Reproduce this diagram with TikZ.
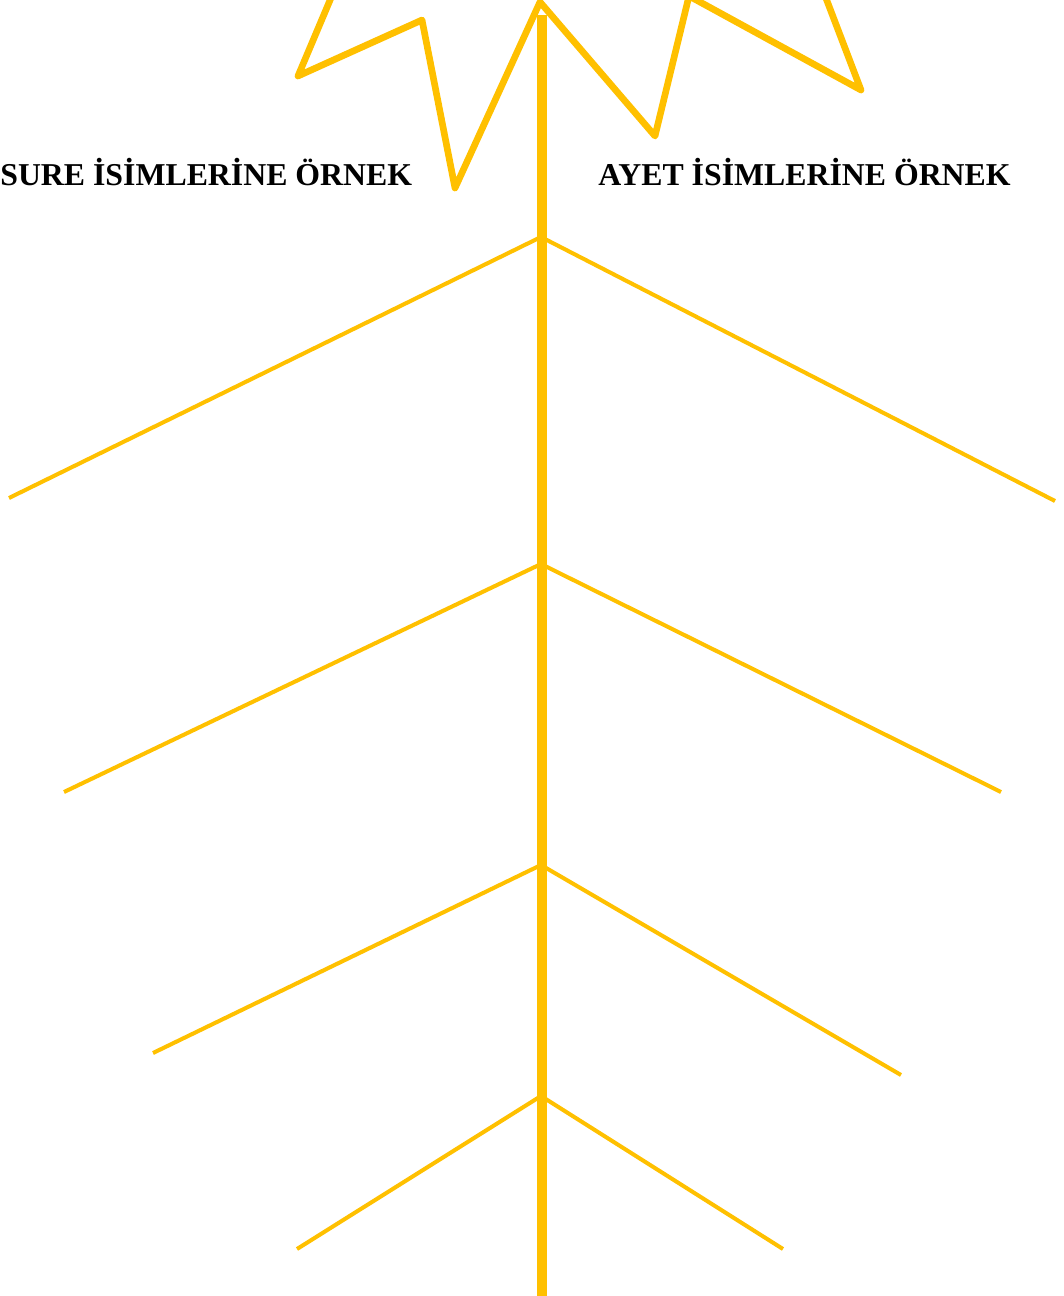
\documentclass[tikz,border=0pt]{standalone}
\usepackage{fontspec}
\setmainfont{Liberation Serif}
\usetikzlibrary{positioning}
\definecolor{stemgold}{RGB}{255,192,0}

\begin{document}
\begin{tikzpicture}[x=0.02cm, y=-0.02cm,
  trunk/.style={stemgold, line width=5.5pt},
  branch/.style={stemgold, line width=2.3pt},
  crown/.style={stemgold, line width=3.8pt, line join=round, line cap=round},
  title/.style={font=\bfseries\fontsize{18.1}{21}\selectfont, inner sep=0pt, anchor=base west}]

% =====================================================================
% Page frame in pixel units (1064 x 1296), y runs downwards
% =====================================================================
\useasboundingbox (0,0) rectangle (1064,1296);
\clip (0,0) rectangle (1064,1296);

% ===== Star at the top (mostly cut off by the frame) =====
\draw[crown] (250,-120) -- (347,-40) -- (298,76) -- (422,20) -- (455,188)
  -- (540,2) -- (655,136) -- (689,-4) -- (861,90) -- (800,-70) -- (900,-150);

% ===== Trunk =====
\coordinate (top) at (542,15);
\coordinate (foot) at (542,1300);
\draw[trunk] (top) -- (foot);

% ===== Branch joints on the trunk and free ends =====
\coordinate (j1) at (541,237);
\coordinate (j2) at (541,564);
\coordinate (j3) at (541,865);
\coordinate (j4) at (541,1096);

\coordinate (l1) at (9,498);    \coordinate (r1) at (1055,501);
\coordinate (l2) at (64,792);   \coordinate (r2) at (1001,792);
\coordinate (l3) at (153,1053); \coordinate (r3) at (901,1075);
\coordinate (l4) at (297,1249); \coordinate (r4) at (783,1249);

\foreach \k in {1,...,4} {
  \draw[branch] (j\k) -- (l\k);
  \draw[branch] (j\k) -- (r\k);
}

% ===== Headings =====
\node[title] (sure) at (0,185) {SURE İSİMLERİNE ÖRNEK};
\node[title] (ayet) at (598,185) {AYET İSİMLERİNE ÖRNEK};

\end{tikzpicture}
\end{document}
